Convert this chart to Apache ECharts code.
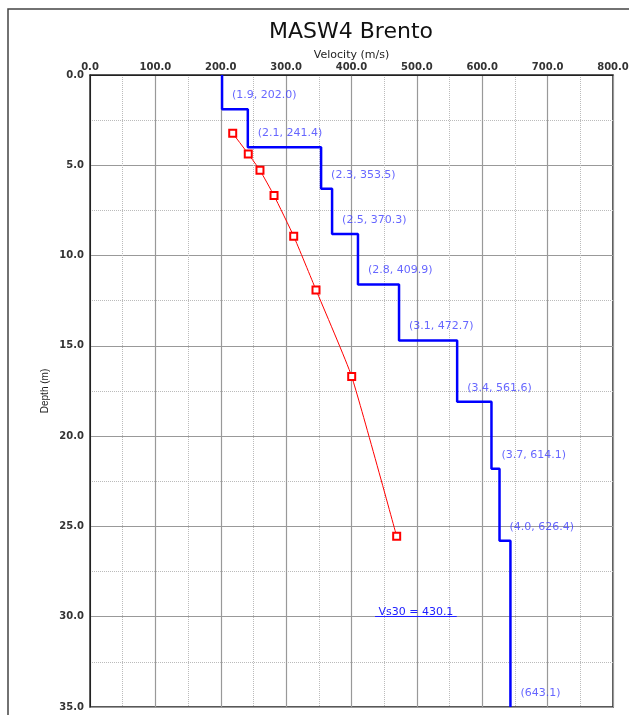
<!DOCTYPE html>
<html>
<head>
<meta charset="utf-8">
<title>MASW4 Brento</title>
<script src="https://cdn.jsdelivr.net/npm/echarts@6/dist/echarts.min.js"></script>
<style>html,body{margin:0;padding:0;background:#fff;}</style>
</head>
<body>
<div id="main" style="width:629px;height:715px;"></div>
<script>
// layer model: thickness (m) and shear velocity (m/s), last velocity is the half-space
var thickness = [1.9, 2.1, 2.3, 2.5, 2.8, 3.1, 3.4, 3.7, 4.0];
var velocity = [202.0, 241.4, 353.5, 370.3, 409.9, 472.7, 561.6, 614.1, 626.4, 643.1];
// red curve (velocity, depth)
var curveVel = [218.3, 242.1, 260.0, 281.5, 311.6, 345.7, 400.3, 469.1];
var curveDepth = [3.23, 4.37, 5.28, 6.68, 8.93, 11.9, 16.7, 25.55];
// Vs30 annotation
var vs30 = 430.1;
var vs30Depth = 30;
var vs30Span = [436, 561];
// axis ticks
var velTicks = [0, 100, 200, 300, 400, 500, 600, 700, 800];
var depthTicks = [0, 5, 10, 15, 20, 25, 30, 35];

var maxDepth = depthTicks[depthTicks.length - 1];

// build the step profile
var step = [];
var labels = [];
var layerTop = 0;
for (var i = 0; i < thickness.length; i++) {
    step.push([velocity[i], layerTop]);
    layerTop = Math.round((layerTop + thickness[i]) * 10) / 10;
    step.push([velocity[i], layerTop]);
    labels.push({
        value: [velocity[i], layerTop],
        name: '(' + thickness[i].toFixed(1) + ', ' + velocity[i].toFixed(1) + ')'
    });
}
var last = velocity[velocity.length - 1];
step.push([last, layerTop]);
step.push([last, maxDepth]);
labels.push({ value: [last, maxDepth], name: '(' + last.toFixed(1) + ')' });

var curve = [];
for (var j = 0; j < curveVel.length; j++) {
    curve.push([curveVel[j], curveDepth[j]]);
}

var myChart = echarts.init(document.getElementById('main'));

function fmt(v) { return v.toFixed(1); }

myChart.setOption({
    animation: false,
    backgroundColor: '#fff',
    graphic: [{
        type: 'rect',
        shape: { x: 8, y: 9, width: 700, height: 800 },
        style: { fill: null, stroke: '#444', lineWidth: 1.5 },
        silent: true
    }, {
        type: 'text',
        x: 351,
        y: 32,
        style: {
            text: 'MASW4 Brento',
            fill: '#111',
            font: '22px "DejaVu Sans"',
            textAlign: 'center',
            textVerticalAlign: 'middle'
        },
        silent: true
    }],
    grid: {
        left: 90, right: 16, top: 75, bottom: 8,
        outerBoundsMode: 'none',
        show: true, borderColor: '#222', borderWidth: 1.5
    },
    xAxis: {
        type: 'value',
        position: 'top',
        min: velTicks[0],
        max: velTicks[velTicks.length - 1],
        interval: velTicks[1] - velTicks[0],
        name: 'Velocity (m/s)',
        nameLocation: 'middle',
        nameGap: 14,
        nameMoveOverlap: false,
        nameTextStyle: { fontFamily: 'DejaVu Sans', fontSize: 11, color: '#222' },
        axisLine: { show: true, lineStyle: { color: '#222' } },
        axisTick: { show: false },
        axisLabel: { margin: 3, formatter: fmt, color: '#333', fontSize: 10, fontWeight: 'bold', fontFamily: 'DejaVu Sans' },
        splitLine: { show: true, lineStyle: { color: '#999', width: 1.2 } },
        minorTick: { show: false, splitNumber: 2 },
        minorSplitLine: { show: true, lineStyle: { color: '#bbb', type: 'dotted', width: 1 } }
    },
    yAxis: {
        type: 'value',
        inverse: true,
        min: depthTicks[0],
        max: maxDepth,
        interval: depthTicks[1] - depthTicks[0],
        name: 'Depth (m)',
        nameLocation: 'middle',
        nameRotate: 90,
        nameGap: 40,
        nameMoveOverlap: false,
        nameTextStyle: { fontFamily: 'Liberation Sans Narrow, Liberation Sans', fontSize: 10, color: '#222' },
        axisLine: { show: true, lineStyle: { color: '#222' } },
        axisTick: { show: false },
        axisLabel: { margin: 6, formatter: fmt, color: '#333', fontSize: 10, fontWeight: 'bold', fontFamily: 'DejaVu Sans' },
        splitLine: { show: true, lineStyle: { color: '#999', width: 1.2 } },
        minorTick: { show: false, splitNumber: 2 },
        minorSplitLine: { show: true, lineStyle: { color: '#bbb', type: 'dotted', width: 1 } }
    },
    series: [
        {
            name: 'profile',
            type: 'line',
            data: step,
            showSymbol: false,
            symbol: 'none',
            lineStyle: { color: '#0000ff', width: 2.5 },
            z: 3,
            markLine: {
                silent: true,
                symbol: 'none',
                lineStyle: { color: '#2020ff', width: 1, type: 'solid' },
                label: {
                    show: true,
                    position: 'insideMiddleTop',
                    distance: -1,
                    formatter: 'Vs30 = ' + vs30.toFixed(1),
                    color: '#2020ff',
                    fontSize: 11,
                    fontFamily: 'DejaVu Sans'
                },
                data: [[{ coord: [vs30Span[0], vs30Depth] }, { coord: [vs30Span[1], vs30Depth] }]]
            }
        },
        {
            name: 'curve',
            type: 'line',
            data: curve,
            smooth: 0.15,
            symbol: 'emptyRect',
            symbolSize: 7,
            itemStyle: { color: '#ff0000', borderWidth: 1 },
            lineStyle: { color: '#ff0000', width: 1 },
            z: 4
        },
        {
            name: 'labels',
            type: 'scatter',
            data: labels,
            symbolSize: 0,
            silent: true,
            label: {
                show: true,
                position: 'right',
                distance: 10,
                offset: [0, -14],
                formatter: '{b}',
                color: '#4040ff',
                fontSize: 11,
                fontFamily: 'DejaVu Sans'
            },
            z: 5
        }
    ]
});
</script>
</body>
</html>
